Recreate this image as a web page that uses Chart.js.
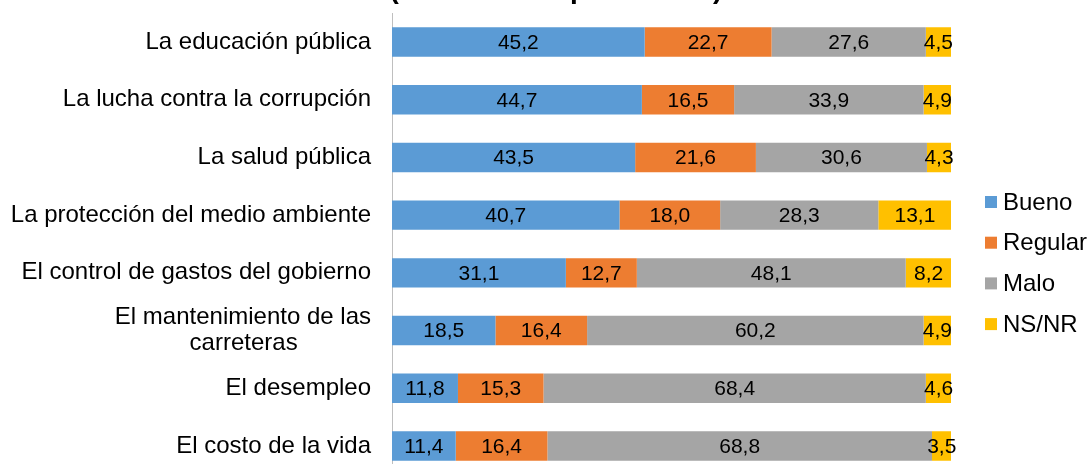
<!DOCTYPE html>
<html>
<head>
<meta charset="utf-8">
<script src="https://cdn.jsdelivr.net/npm/chart.js@4.4.1/dist/chart.umd.min.js"></script>
<style>
  html, body { margin: 0; padding: 0; background: #fff; overflow: hidden; }
  #wrap { position: relative; width: 1090px; height: 488px; }
</style>
</head>
<body>
<div id="wrap"><canvas id="chart"></canvas></div>
<script>
// Categories and series (values in %)
const categories = [
  'La educación pública',
  'La lucha contra la corrupción',
  'La salud pública',
  'La protección del medio ambiente',
  'El control de gastos del gobierno',
  ['El mantenimiento de las', 'carreteras'],
  'El desempleo',
  'El costo de la vida'
];
const bueno   = [45.2, 44.7, 43.5, 40.7, 31.1, 18.5, 11.8, 11.4];
const regular = [22.7, 16.5, 21.6, 18.0, 12.7, 16.4, 15.3, 16.4];
const malo    = [27.6, 33.9, 30.6, 28.3, 48.1, 60.2, 68.4, 68.8];
const nsnr    = [4.5, 4.9, 4.3, 13.1, 8.2, 4.9, 4.6, 3.5];
const seriesNames = ['Bueno', 'Regular', 'Malo', 'NS/NR'];
const seriesColors = ['#5B9BD5', '#ED7D31', '#A5A5A5', '#FFC000'];
const titleText = '(Distribución porcentual)';

const FONT = '"Liberation Sans", Arial, sans-serif';
Chart.defaults.font.family = FONT;
Chart.defaults.color = '#000';

// pad the second line of a wrapped label so both lines look centred
const measure = document.createElement('canvas').getContext('2d');
measure.font = '24px ' + FONT;
function centreLines(label) {
  if (!Array.isArray(label)) return label;
  const widest = Math.max(...label.map(l => measure.measureText(l).width));
  const sp = measure.measureText(' ').width;
  return label.map(l => {
    const n = Math.round((widest - measure.measureText(l).width) / 2 / sp);
    return l + ' '.repeat(n);
  });
}

// values written in the middle of each segment
const segmentLabels = {
  id: 'segmentLabels',
  afterDatasetsDraw(chart) {
    const ctx = chart.ctx;
    ctx.save();
    ctx.font = '21px ' + FONT;
    ctx.fillStyle = '#000';
    ctx.textAlign = 'center';
    ctx.textBaseline = 'middle';
    chart.data.datasets.forEach((ds, i) => {
      chart.getDatasetMeta(i).data.forEach((bar, j) => {
        const txt = ds.data[j].toFixed(1).replace('.', ',');
        ctx.fillText(txt, (bar.x + bar.base) / 2, bar.y + 1);
      });
    });
    ctx.restore();
  }
};

// legend on the right, square markers
const sideLegend = {
  id: 'sideLegend',
  afterDraw(chart) {
    const ctx = chart.ctx;
    ctx.save();
    ctx.font = '24px ' + FONT;
    ctx.textBaseline = 'middle';
    ctx.textAlign = 'left';
    chart.data.datasets.forEach((ds, i) => {
      const cy = 202 + i * 40.7;
      ctx.fillStyle = ds.backgroundColor;
      ctx.fillRect(985, cy - 6, 12, 12);
      ctx.fillStyle = '#000';
      ctx.fillText(ds.label, 1003, cy + 1);
    });
    ctx.restore();
  }
};

// title sits mostly above the visible area
const cutTitle = {
  id: 'cutTitle',
  afterDraw(chart) {
    const ctx = chart.ctx;
    ctx.save();
    ctx.font = 'bold 28px ' + FONT;
    ctx.fillStyle = '#000';
    ctx.textAlign = 'center';
    ctx.textBaseline = 'alphabetic';
    ctx.fillText(titleText, 556, -2);
    ctx.restore();
  }
};

const allSeries = [bueno, regular, malo, nsnr];

new Chart(document.getElementById('chart'), {
  type: 'bar',
  data: {
    labels: categories,
    datasets: allSeries.map((vals, i) => ({
      label: seriesNames[i],
      data: vals,
      backgroundColor: seriesColors[i],
      borderWidth: 0,
      categoryPercentage: 1,
      barPercentage: 0.51
    }))
  },
  options: {
    indexAxis: 'y',
    responsive: true,
    maintainAspectRatio: false,
    animation: false,
    layout: { padding: { top: 13, bottom: 1, left: 0, right: 139 } },
    plugins: {
      legend: { display: false },
      title: { display: false },
      tooltip: { enabled: false }
    },
    scales: {
      x: {
        stacked: true,
        min: 0,
        max: 100,
        display: false
      },
      y: {
        stacked: true,
        grid: { display: false, drawTicks: true, tickLength: 21 },
        border: { display: true, color: '#BFBFBF', width: 1 },
        ticks: {
          padding: 0,
          font: { size: 24, lineHeight: 1.1 },
          color: '#000',
          callback: function (value, index) { return centreLines(categories[index]); }
        },
        afterFit: (scale) => { scale.width = 392; }
      }
    }
  },
  plugins: [segmentLabels, sideLegend, cutTitle]
});
</script>
</body>
</html>
